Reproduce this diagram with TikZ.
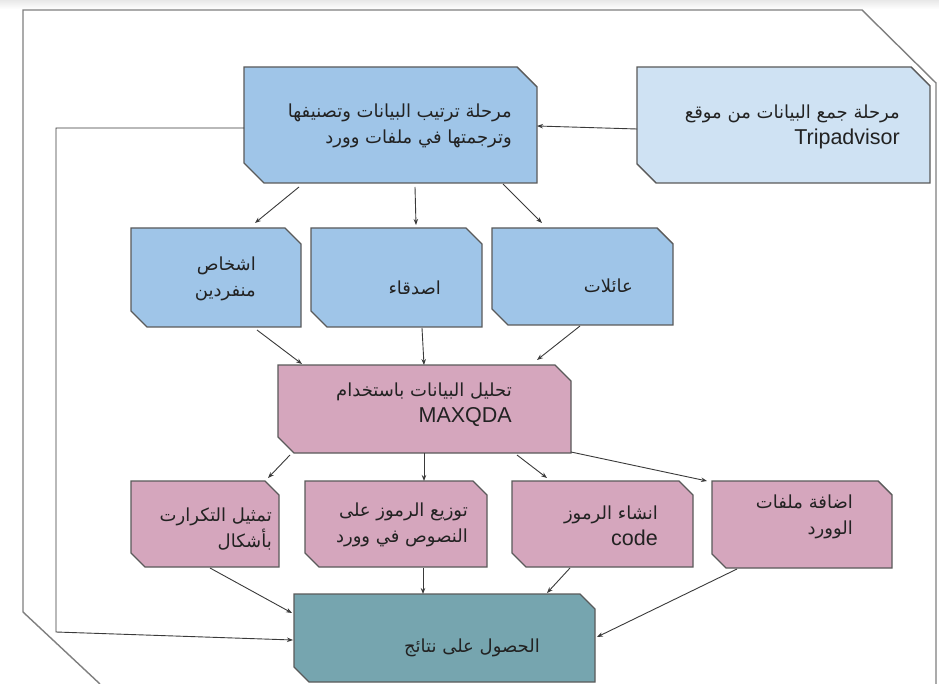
\documentclass[tikz,border=0pt]{standalone}
\usepackage{fontspec}
\setmainfont{Liberation Sans}
\newfontfamily\arabicfont[Script=Arabic]{DejaVu Sans}
\TeXXeTstate=1
\usetikzlibrary{arrows.meta,calc}
\definecolor{blueA}{HTML}{9FC5E8}
\definecolor{blueB}{HTML}{CFE2F3}
\definecolor{pinkC}{HTML}{D5A6BD}
\definecolor{tealC}{HTML}{76A5AF}
\definecolor{boxgray}{HTML}{5A5A5A}
\definecolor{conngray}{HTML}{3A3A3A}
\definecolor{framegray}{HTML}{7F7F7F}
\definecolor{txtc}{HTML}{222222}
\newcommand\ar[1]{{\arabicfont\beginR #1\endR}}
\newcommand\la[1]{{\fontsize{21.5}{26}\selectfont #1}}
\newcommand\cutbox[7]{%
  \draw[boxline, fill=#7] (#2,#3) -- (#4-#6,#3) -- (#4,#3+#6) -- (#4,#5) -- (#2+#6,#5) -- (#2,#5-#6) -- cycle;
  \path (#2,#3) node[anchorbox, minimum width={(#4-#2)*1pt}, minimum height={(#5-#3)*1pt}] (#1) {};
}
\tikzset{
  boxline/.style={draw=boxgray, line width=1.4pt, line join=miter},
  conn/.style={draw=conngray, line width=0.9pt, -{Stealth[length=6pt,width=4.5pt]}},
  txt/.style={inner sep=0pt, align=right, text=txtc, anchor=east, font=\fontsize{18}{26}\selectfont},
  anchorbox/.style={inner sep=0pt, outer sep=0pt, draw=none, anchor=north west}
}
\begin{document}
\begin{tikzpicture}[x=1pt,y=-1pt]
\useasboundingbox (0,0) rectangle (939,684);
\fill[white] (0,0) rectangle (939,684);
\shade[top color=gray!18, bottom color=white] (0,0) rectangle (939,9);
% outer frame
\draw[framegray, line width=1.4pt] (100,684) -- (23,612) -- (23,10) -- (862,10) -- (936,83) -- (936,690);
% boxes
\cutbox{b1}{244}{67}{537}{183}{20}{blueA}
\cutbox{trip}{637}{67}{930}{183}{19}{blueB}
\cutbox{r1}{131}{228}{301}{327}{16}{blueA}
\cutbox{r2}{311}{228}{482}{327}{16}{blueA}
\cutbox{r3}{492}{228}{673}{325}{16}{blueA}
\cutbox{mx}{278}{365}{571}{453}{16}{pinkC}
\cutbox{c1}{131}{481}{279}{567}{14}{pinkC}
\cutbox{c2}{305}{481}{487}{567}{14}{pinkC}
\cutbox{c3}{512}{481}{693}{567}{14}{pinkC}
\cutbox{c4}{712}{481}{892}{568}{14}{pinkC}
\cutbox{fin}{294}{594}{595}{682}{15}{tealC}
% texts
\node[txt] (b1t) at (512,125.5) {\ar{مرحلة ترتيب البيانات وتصنيفها}\\\ar{وترجمتها في ملفات وورد}};
\node[txt] (tript) at (900,126.5) {\ar{مرحلة جمع البيانات من موقع}\\\la{Tripadvisor}};
\node[txt] (r1t) at (256,278.5) {\ar{اشخاص}\\\ar{منفردين}};
\node[txt] (r2t) at (441,288) {\ar{اصدقاء}};
\node[txt] (r3t) at (633,286) {\ar{عائلات}};
\node[txt] (mxt) at (512,405) {\ar{تحليل البيانات باستخدام}\\\la{MAXQDA}};
\node[txt] (c1t) at (272,529) {\ar{تمثيل التكرارت}\\\ar{بأشكال}};
\node[txt] (c2t) at (468,524.5) {\ar{توزيع الرموز على}\\\ar{النصوص في وورد}};
\node[txt] (c3t) at (658,526) {\ar{انشاء الرموز}\\\la{code}};
\node[txt] (c4t) at (853,517) {\ar{اضافة ملفات}\\\ar{الوورد}};
\node[txt] (fint) at (540,648) {\ar{الحصول على نتائج}};
% connectors
\draw[conn] ($(trip.west)+(0,4)$) -- ($(b1.east)+(0,1)$);
\draw[conn] ($(b1.south west)+(55,4)$) -- ($(r1.north west)+(124,-5)$);
\draw[conn] ($(b1.south west)+(171,4)$) -- ($(r2.north west)+(105,-3)$);
\draw[conn] ($(b1.south west)+(259,1)$) -- ($(r3.north west)+(50,-5)$);
\draw[conn] ($(r1.south west)+(126,3)$) -- ($(mx.north west)+(24,-1)$);
\draw[conn] ($(r2.south west)+(111,1)$) -- ($(mx.north west)+(146,0)$);
\draw[conn] ($(r3.south west)+(88,1)$) -- ($(mx.north west)+(259,-5)$);
\draw[conn] ($(mx.south west)+(12,2)$) -- ($(c1.north west)+(137,-3)$);
\draw[conn] ($(mx.south west)+(146,0)$) -- ($(c2.north west)+(119,0)$);
\draw[conn] ($(mx.south west)+(239,2)$) -- ($(c3.north west)+(35,-3)$);
\draw[conn] ($(mx.south east)+(0,-1)$) -- ($(c4.north west)+(-5,0)$);
\draw[conn] ($(c1.south west)+(79,1)$) -- ($(fin.north west)+(-2,19)$);
\draw[conn] ($(c2.south west)+(118,1)$) -- ($(fin.north west)+(129,0)$);
\draw[conn] ($(c3.south west)+(58,1)$) -- ($(fin.north west)+(253,-1)$);
\draw[conn] ($(c4.south west)+(25,1)$) -- ($(fin.north east)+(2,43)$);
\coordinate (lft1) at (56,128);
\coordinate (lft2) at (56,632);
\draw[conn] ($(b1.west)+(0,3)$) -- (lft1) -- (lft2) -- ($(fin.west)+(-1,2)$);
\end{tikzpicture}
\end{document}
